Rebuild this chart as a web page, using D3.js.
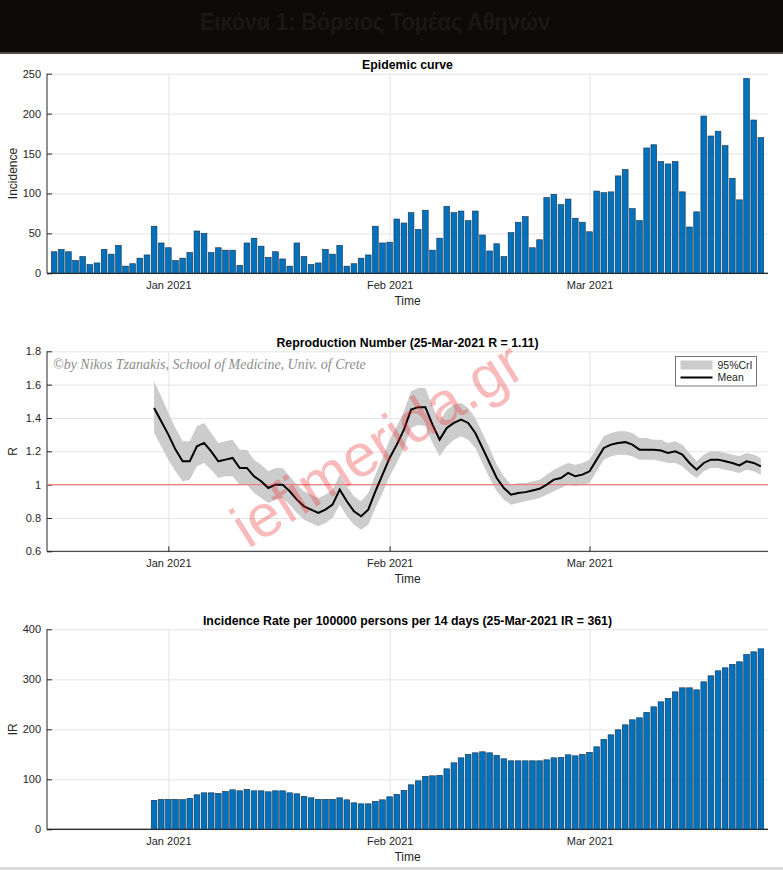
<!DOCTYPE html>
<html>
<head>
<meta charset="utf-8">
<script src="https://cdn.jsdelivr.net/npm/d3@7"></script>
<style>
body{margin:0;background:#fff;}
svg text{font-family:"Liberation Sans",Arial,sans-serif;}
svg text.credit{font-family:"Liberation Serif","DejaVu Serif",serif;font-style:italic;}
.axis text{font-size:11px;fill:#262626;}
.axis path,.axis line{stroke:#262626;}
.grid line{stroke:#e4e4e4;}
.grid path{display:none;}
.grid text{display:none;}
</style>
</head>
<body>
<div class="chartWrapper"></div>
<script>
var pageTitle = 'Εικόνα 1: Βόρειος Τομέας Αθηνών';
var firstDay = '2020-12-16';   // first bar of the epidemic curve
var rFirstDay = '2020-12-30';  // first day of R and IR series
var xTickDays = ['2021-01-01','2021-02-01','2021-03-01'];

var incidence = [27,30,27,16,21,11,13,30,24,35,9,12,19,23,59,38,32,16,19,26,
  53,50,26,32,29,29,10,38,44,34,20,27,18,9,38,21,11,13,30,24,
  35,9,12,19,23,59,38,39,68,63,76,55,79,29,44,84,76,78,66,78,
  48,28,37,21,51,64,71,32,42,95,99,86,93,69,64,52,103,101,102,122,
  130,81,66,157,161,140,137,140,102,58,77,197,172,178,160,119,92,244,192,170];

var rMean = [1.46,1.38,1.30,1.21,1.14,1.14,1.23,1.25,1.20,1.14,
  1.15,1.16,1.10,1.10,1.05,1.02,0.98,1.00,1.00,0.96,
  0.91,0.87,0.85,0.83,0.85,0.88,0.97,0.90,0.84,0.81,
  0.85,0.96,1.06,1.16,1.24,1.33,1.45,1.465,1.465,1.36,
  1.27,1.34,1.37,1.39,1.37,1.31,1.22,1.13,1.04,0.98,
  0.94,0.95,0.955,0.965,0.975,1.00,1.03,1.04,1.07,1.05,
  1.06,1.08,1.15,1.22,1.24,1.25,1.255,1.24,1.21,1.21,
  1.21,1.205,1.19,1.20,1.18,1.13,1.09,1.13,1.15,1.15,
  1.14,1.13,1.115,1.14,1.13,1.11];
var rLower = [1.31,1.23,1.15,1.08,1.02,1.03,1.11,1.13,1.09,1.04,
  1.05,1.05,1.00,1.00,0.95,0.92,0.89,0.91,0.92,0.88,
  0.83,0.79,0.77,0.75,0.77,0.80,0.88,0.81,0.76,0.73,
  0.76,0.86,0.95,1.05,1.13,1.22,1.34,1.36,1.35,1.25,
  1.17,1.23,1.27,1.29,1.27,1.22,1.13,1.04,0.96,0.91,
  0.88,0.89,0.90,0.91,0.92,0.94,0.96,0.98,1.00,0.99,
  1.00,1.01,1.08,1.15,1.17,1.18,1.18,1.17,1.15,1.15,
  1.15,1.14,1.13,1.13,1.11,1.07,1.04,1.08,1.10,1.10,
  1.09,1.08,1.07,1.09,1.08,1.06];
var rUpper = [1.62,1.53,1.43,1.34,1.26,1.26,1.35,1.37,1.31,1.25,
  1.26,1.27,1.21,1.21,1.15,1.12,1.08,1.10,1.10,1.05,
  1.00,0.96,0.94,0.92,0.94,0.97,1.06,0.99,0.93,0.90,
  0.95,1.06,1.16,1.27,1.35,1.44,1.56,1.58,1.58,1.47,
  1.38,1.45,1.48,1.49,1.46,1.40,1.31,1.22,1.12,1.05,
  1.00,1.01,1.01,1.02,1.03,1.06,1.09,1.11,1.13,1.12,
  1.13,1.15,1.22,1.29,1.31,1.32,1.32,1.31,1.28,1.28,
  1.27,1.27,1.25,1.26,1.24,1.19,1.14,1.18,1.20,1.20,
  1.19,1.18,1.17,1.19,1.18,1.16];

var irValues = [58,60,60,60,59.5,62,69,73,73,72,
  76,79,77,80,77,77,75,77,77,73,
  71,66,63,60,60,60,63,59,53,51,
  51,56,59,65,70,78,89,97,106,107,
  108,121,133,143,150,153,155,153,148,141,
  137,137,137,137,137,139,143,144,149,147,
  150,154,165,180,189,199,209,219,223,234,
  245,255,262,275,283,283,279,295,307,317,
  323,330,335,350,355,361];

var incidenceTicks = [0,50,100,150,200,250];
var rTicks = [0.6,0.8,1,1.2,1.4,1.6,1.8];
var irTicks = [0,100,200,300,400];
var rThreshold = 1;

var titles = ['Epidemic curve',
  'Reproduction Number (25-Mar-2021 R = 1.11)',
  'Incidence Rate per 100000 persons per 14 days (25-Mar-2021 IR = 361)'];
var yLabels = ['Incidence','R','IR'];
var legendLabels = ['95%CrI','Mean'];
var creditText = '\u00A9by Nikos Tzanakis, School of Medicine, Univ. of Crete';
var watermarkText = 'iefimerida.gr';

var W = 783, H = 870;
var plotLeft = 47, plotRight = 768;

var svg = d3.select('.chartWrapper').append('svg')
  .attr('width',W).attr('height',H);

var parseDay = d3.utcParse('%Y-%m-%d');
var day0 = parseDay(firstDay), rDay0 = parseDay(rFirstDay);
var days = incidence.map(function(d,i){ return d3.utcDay.offset(day0,i); });
var rDays = rMean.map(function(d,i){ return d3.utcDay.offset(rDay0,i); });

var xScale = d3.scaleUtc()
  .domain([d3.utcDay.offset(days[0],-1), d3.utcDay.offset(days[days.length-1],1)])
  .range([plotLeft,plotRight]);
var dayW = xScale(d3.utcDay.offset(day0,1)) - xScale(day0);
var barW = dayW*0.8;

// header band
svg.append('rect').attr('x',0).attr('y',0).attr('width',W).attr('height',53).attr('fill','#0d0b0a');
svg.append('rect').attr('x',0).attr('y',52).attr('width',W).attr('height',2).attr('fill','#4d4d4d');
svg.append('text')
  .attr('x',375).attr('y',30)
  .attr('text-anchor','middle')
  .attr('font-size','24px').attr('font-weight','bold')
  .attr('textLength',350).attr('lengthAdjust','spacingAndGlyphs')
  .attr('fill','#1a1715')
  .text(pageTitle);

function drawFrame(top,bottom,yScale,ticks,fmt,title,ylab){
  var h = bottom - top;
  svg.append('g').attr('class','grid')
    .attr('transform','translate(0,'+bottom+')')
    .call(d3.axisBottom(xScale).tickValues(xTickDays.map(parseDay)).tickSize(-h));
  svg.append('g').attr('class','grid')
    .attr('transform','translate('+plotLeft+',0)')
    .call(d3.axisLeft(yScale).tickValues(ticks).tickSize(-(plotRight-plotLeft)));
  var xa = svg.append('g').attr('class','axis')
    .attr('transform','translate(0,'+bottom+')')
    .call(d3.axisBottom(xScale).tickValues(xTickDays.map(parseDay))
      .tickFormat(d3.utcFormat('%b %Y')).tickSizeInner(-5).tickSizeOuter(0).tickPadding(8));
  var ya = svg.append('g').attr('class','axis')
    .attr('transform','translate('+plotLeft+',0)')
    .call(d3.axisLeft(yScale).tickValues(ticks).tickFormat(fmt)
      .tickSizeInner(-5).tickSizeOuter(0).tickPadding(6));
  xa.select('.domain').attr('d','M'+plotLeft+',0H'+plotRight);
  ya.select('.domain').attr('d','M0,'+top+'V'+bottom);
  svg.append('text')
    .attr('x',(plotLeft+plotRight)/2).attr('y',top-4.5)
    .attr('text-anchor','middle')
    .attr('font-size','12.3px').attr('font-weight','bold').attr('fill','#000')
    .text(title);
  svg.append('text')
    .attr('x',(plotLeft+plotRight)/2).attr('y',bottom+32)
    .attr('text-anchor','middle').attr('font-size','12px').attr('fill','#262626')
    .text('Time');
  svg.append('text')
    .attr('transform','translate(17,'+(top+h/2)+') rotate(-90)')
    .attr('text-anchor','middle').attr('font-size','12px').attr('fill','#262626')
    .text(ylab);
}

function drawBars(data,dates,yScale){
  svg.append('g').selectAll('rect')
    .data(data).enter().append('rect')
    .attr('x',function(d,i){ return xScale(dates[i]) - barW/2; })
    .attr('y',function(d){ return yScale(d); })
    .attr('width',barW)
    .attr('height',function(d){ return yScale(0) - yScale(d); })
    .attr('fill','#0072bd')
    .attr('stroke','#17324d')
    .attr('stroke-width',0.6);
}

// panel 1: epidemic curve
var y1 = d3.scaleLinear().domain([0,250]).range([273.3,73.7]);
drawFrame(73.7,273.3,y1,incidenceTicks,d3.format('d'),titles[0],yLabels[0]);
drawBars(incidence,days,y1);
svg.append('path').attr('d','M'+plotLeft+','+y1(0)+'H'+plotRight).attr('stroke','#262626');

// panel 2: reproduction number
var y2 = d3.scaleLinear().domain([0.6,1.8]).range([551.3,351.3]);
drawFrame(351.3,551.3,y2,rTicks,function(d){ return String(d); },titles[1],yLabels[1]);
var band = d3.area()
  .x(function(d,i){ return xScale(rDays[i]); })
  .y0(function(d,i){ return y2(rLower[i]); })
  .y1(function(d,i){ return y2(rUpper[i]); });
svg.append('path').datum(rMean).attr('d',band).attr('fill','#cccccc');
svg.append('line')
  .attr('x1',plotLeft).attr('x2',plotRight)
  .attr('y1',y2(rThreshold)).attr('y2',y2(rThreshold))
  .attr('stroke','#f08080').attr('stroke-width',1.2);
var meanLine = d3.line()
  .x(function(d,i){ return xScale(rDays[i]); })
  .y(function(d){ return y2(d); });
svg.append('path').datum(rMean).attr('d',meanLine)
  .attr('fill','none').attr('stroke','#000').attr('stroke-width',2);

// legend
var lg = svg.append('g').attr('transform','translate(675.5,356.5)');
lg.append('rect').attr('width',81).attr('height',29.5).attr('fill','#fff').attr('stroke','#555').attr('stroke-width',0.8);
lg.append('rect').attr('x',5).attr('y',4).attr('width',32).attr('height',9).attr('fill','#cccccc');
lg.append('line').attr('x1',5).attr('x2',37).attr('y1',21).attr('y2',21).attr('stroke','#000').attr('stroke-width',2);
lg.selectAll('text.lab').data(legendLabels).enter().append('text')
  .attr('class','lab')
  .attr('x',42).attr('y',function(d,i){ return 8.5 + i*12.5; })
  .attr('dy','0.35em')
  .attr('font-size','10.5px').attr('fill','#262626')
  .text(function(d){ return d; });

// credit line
svg.append('text')
  .attr('class','credit')
  .attr('x',53).attr('y',369)
  .attr('font-size','14px').attr('fill','#8c8c8c')
  .text(creditText);

// panel 3: incidence rate
var y3 = d3.scaleLinear().domain([0,400]).range([829.3,629.3]);
drawFrame(629.3,829.3,y3,irTicks,d3.format('d'),titles[2],yLabels[2]);
drawBars(irValues,rDays,y3);
svg.append('path').attr('d','M'+plotLeft+','+y3(0)+'H'+plotRight).attr('stroke','#262626');

// watermark
svg.append('text')
  .attr('transform','translate(388,462) rotate(-32)')
  .attr('text-anchor','middle')
  .attr('font-size','60px')
  .attr('fill','rgba(235,45,45,0.33)')
  .text(watermarkText);

svg.append('rect').attr('x',0).attr('y',867).attr('width',W).attr('height',3).attr('fill','#d9d9d9');
</script>
</body>
</html>
